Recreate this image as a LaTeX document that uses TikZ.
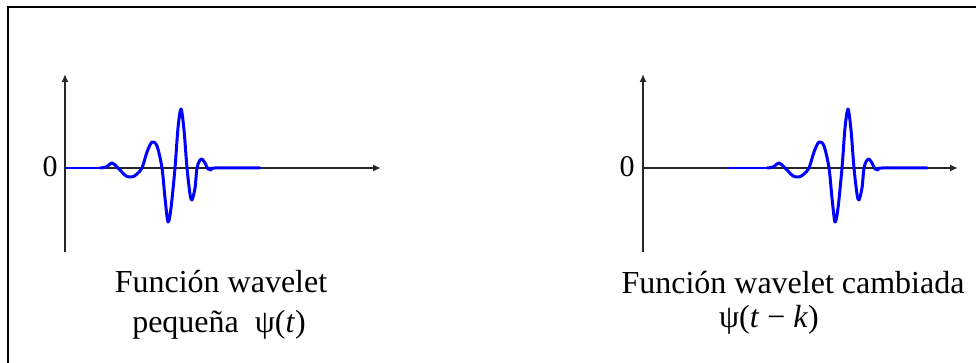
\documentclass[tikz,border=0pt]{standalone}
\usepackage{fontspec}
\setmainfont{Liberation Serif}
\usetikzlibrary{arrows.meta}
\begin{document}
\begin{tikzpicture}[x=1pt,y=-1pt,
 axis/.style={line width=2pt, draw=black!85, -{Latex[length=8pt,width=7pt]}},
 axisplain/.style={line width=2pt, draw=black!85},
 wave/.style={blue, line width=3pt, line join=round, line cap=round},
 thinwave/.style={blue, line width=1.6pt},
 capt/.style={font=\fontsize{32}{40}\selectfont, anchor=base, inner sep=0pt},
 zero/.style={font=\fontsize{30}{32}\selectfont, inner sep=0pt}]
\useasboundingbox (0,0) rectangle (976,363);
\begin{scope}
\clip (0,0) rectangle (976,363);
\draw[line width=2pt] (8,7) rectangle (990,380);
\end{scope}
% left plot
\begin{scope}[shift={(65,168)}, y=1pt]
\coordinate (o1) at (0,0);
\coordinate (x1) at (316,0);
\coordinate (yt1) at (0,94);
\coordinate (yb1) at (0,-84);
\draw[axisplain] (yb1) -- (o1);
\draw[axis] (o1) -- (yt1);
\draw[axis] (o1) -- (x1);
\draw[thinwave] (0,0) -- (35,0);
\draw[wave] plot[smooth, tension=0.5] coordinates {(35,0) (41,1) (47,5) (52,1) (56,-3) (61,-8) (67,-9) (72,-6) (77,0) (82,16) (87,26) (92,22) (97,0) (100,-30) (103,-54) (106,-40) (110,0) (113,40) (116,59) (119,38) (122,0) (125,-26) (127,-32) (130,-20) (132,0) (135,8) (137,9) (140,5) (143,-1) (146,-2) (150,0) (195,0)};
\end{scope}
\node[zero] (z1) at (50,167) {0};
% right plot
\begin{scope}[shift={(643,168)}, y=1pt]
\coordinate (o2) at (0,0);
\coordinate (x2) at (315,0);
\coordinate (yt2) at (0,94);
\coordinate (yb2) at (0,-84);
\draw[axisplain] (yb2) -- (o2);
\draw[axis] (o2) -- (yt2);
\draw[axis] (o2) -- (x2);
\begin{scope}[xshift=89pt]
\draw[thinwave] (-4,0) -- (35,0);
\draw[wave] plot[smooth, tension=0.5] coordinates {(35,0) (41,1) (47,5) (52,1) (56,-3) (61,-8) (67,-9) (72,-6) (77,0) (82,16) (87,26) (92,22) (97,0) (100,-30) (103,-54) (106,-40) (110,0) (113,40) (116,59) (119,38) (122,0) (125,-26) (127,-32) (130,-20) (132,0) (135,8) (137,9) (140,5) (143,-1) (146,-2) (150,0) (195,0)};
\end{scope}
\end{scope}
\node[zero] (z2) at (627,167) {0};
% captions
\node[capt] (c1a) at (221,292) {Función wavelet};
\node[capt] (c1b) at (219,332) {pequeña\ \ ψ(\textit{t})};
\node[capt] (c2a) at (793,293) {Función wavelet cambiada};
\node[capt] (c2b) at (769,327) {ψ(\textit{t} − \textit{k})};
\end{tikzpicture}
\end{document}
